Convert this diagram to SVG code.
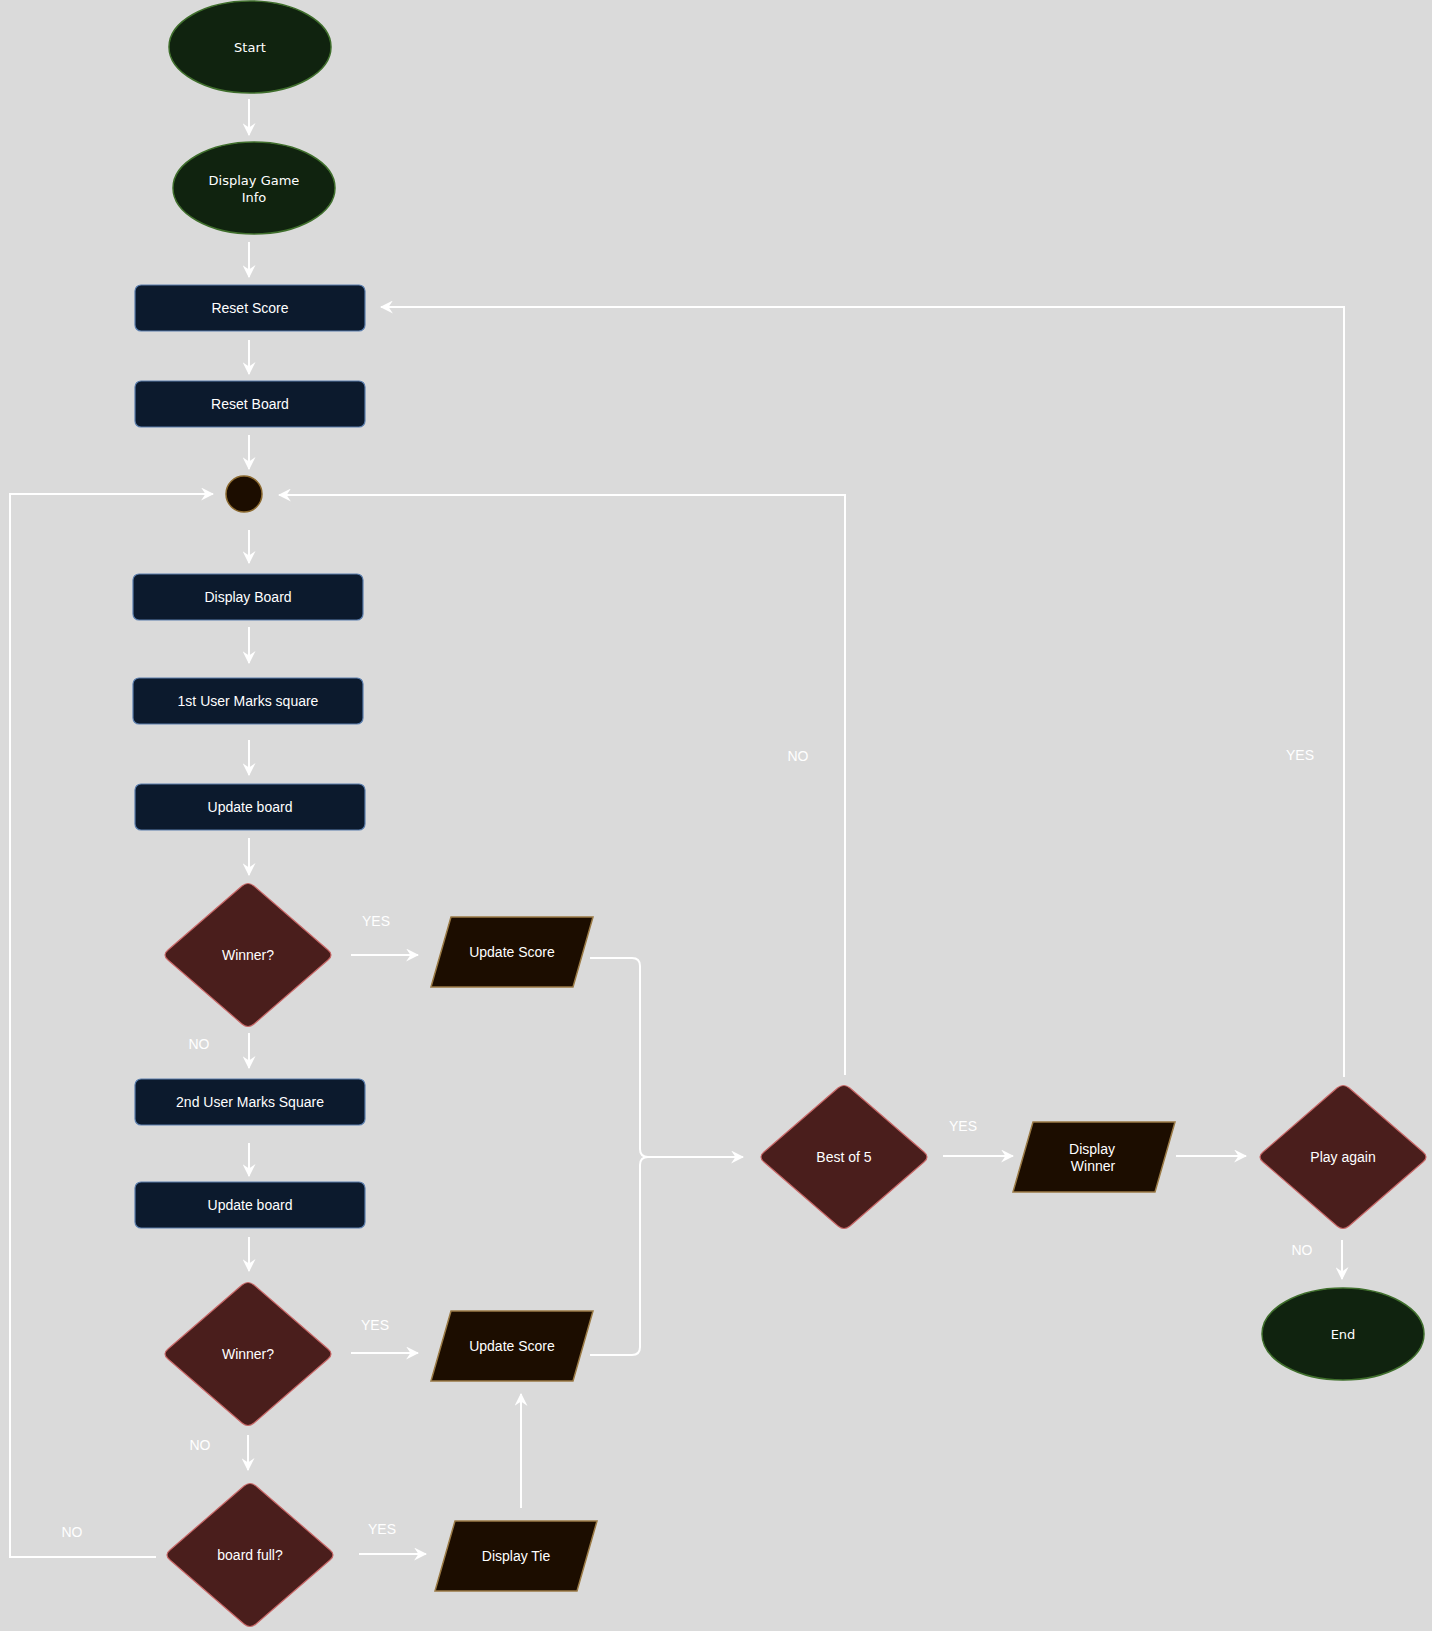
<svg xmlns="http://www.w3.org/2000/svg" xmlns:xlink="http://www.w3.org/1999/xlink" width="1432" height="1631" viewBox="0 0 1432 1631">
<style>
.term{fill:#10230f;stroke:#3f6e2c;stroke-width:1.5}
.proc{fill:#0c1a2d;stroke:#5a7dac;stroke-width:1.2}
.dec{fill:#4a1e1c;stroke:#c86868;stroke-width:1.2}
.io{fill:#1c0d00;stroke:#9a7a45;stroke-width:1.5}
.jn{fill:#1c0d00;stroke:#8c6a30;stroke-width:1.5}
.t{font-family:"Liberation Sans",Arial,Helvetica,sans-serif;font-size:14px;fill:#ffffff;text-anchor:middle}
.tc{font-family:"DejaVu Sans","Noto Sans",sans-serif;font-size:13px;fill:#ffffff;text-anchor:middle}
.lbl{font-family:"Liberation Sans",Arial,Helvetica,sans-serif;font-size:14px;fill:#ffffff;text-anchor:middle}
.c{fill:none;stroke:#ffffff;stroke-width:2}
.a{marker-end:url(#arr)}
</style>
<defs>
<marker id="arr" viewBox="0 0 12 12" refX="11" refY="6" markerWidth="13" markerHeight="13" markerUnits="userSpaceOnUse" orient="auto">
<path d="M0,0 L12,6 L0,12 L4,6 Z" fill="#ffffff"/>
</marker>
<path id="dia" d="M-6,-69 Q0,-74 6,-69 L80,-5 Q86,0 80,5 L6,69 Q0,74 -6,69 L-80,5 Q-86,0 -80,-5 Z"/>
<path id="par" d="M-61,-35 L81,-35 L61,35 L-81,35 Z"/>
</defs>
<rect x="0" y="0" width="1432" height="1631" fill="#dadada"/>

<g id="connectors">
<path class="c a" d="M249,99 V135"/>
<path class="c a" d="M249,242 V277"/>
<path class="c a" d="M249,340 V374"/>
<path class="c a" d="M249,435 V469"/>
<path class="c a" d="M249,530 V563"/>
<path class="c a" d="M249,627 V663"/>
<path class="c a" d="M249,740 V775"/>
<path class="c a" d="M249,838 V875"/>
<path class="c a" d="M351,955 H418"/>
<path class="c a" d="M249,1033 V1068"/>
<path class="c a" d="M249,1143 V1176"/>
<path class="c a" d="M249,1237 V1271"/>
<path class="c a" d="M351,1353 H418"/>
<path class="c a" d="M248,1435 V1470"/>
<path class="c a" d="M359,1554 H426"/>
<path class="c a" d="M521,1508 V1394"/>
<path class="c a" d="M156,1557 H10 V494 H213"/>
<path class="c a" d="M590,958 H632 Q640,958 640,966 V1149 Q640,1157 648,1157 H743"/>
<path class="c" d="M590,1355 H632 Q640,1355 640,1347 V1165 Q640,1157 648,1157"/>
<path class="c a" d="M845,1075 V495 H279"/>
<path class="c a" d="M943,1156 H1013"/>
<path class="c a" d="M1176,1156 H1246"/>
<path class="c a" d="M1344,1077 V307 H381"/>
<path class="c a" d="M1342,1240 V1279"/>
<text class="lbl" x="376" y="926">YES</text>
<text class="lbl" x="199" y="1049">NO</text>
<text class="lbl" x="375" y="1330">YES</text>
<text class="lbl" x="200" y="1450">NO</text>
<text class="lbl" x="382" y="1534">YES</text>
<text class="lbl" x="72" y="1537">NO</text>
<text class="lbl" x="798" y="761">NO</text>
<text class="lbl" x="963" y="1131">YES</text>
<text class="lbl" x="1300" y="760">YES</text>
<text class="lbl" x="1302" y="1255">NO</text>
</g>

<g id="start"><ellipse class="term" cx="250" cy="47" rx="81" ry="46"/><text class="tc" x="250" y="52">Start</text></g>
<g id="display-game-info"><ellipse class="term" cx="254" cy="188" rx="81" ry="46"/><text class="tc" x="254" y="185">Display Game</text><text class="tc" x="254" y="202">Info</text></g>
<g id="reset-score"><rect class="proc" x="135" y="285" width="230" height="46" rx="6"/><text class="t" x="250" y="313">Reset Score</text></g>
<g id="reset-board"><rect class="proc" x="135" y="381" width="230" height="46" rx="6"/><text class="t" x="250" y="409">Reset Board</text></g>
<g id="junction"><circle class="jn" cx="244" cy="494" r="18"/></g>
<g id="display-board"><rect class="proc" x="133" y="574" width="230" height="46" rx="6"/><text class="t" x="248" y="602">Display Board</text></g>
<g id="user1-marks"><rect class="proc" x="133" y="678" width="230" height="46" rx="6"/><text class="t" x="248" y="706">1st User Marks square</text></g>
<g id="update-board-1"><rect class="proc" x="135" y="784" width="230" height="46" rx="6"/><text class="t" x="250" y="812">Update board</text></g>
<g id="winner-1"><use xlink:href="#dia" href="#dia" class="dec" x="248" y="955"/><text class="t" x="248" y="960">Winner?</text></g>
<g id="update-score-1"><use xlink:href="#par" href="#par" class="io" x="512" y="952"/><text class="t" x="512" y="957">Update Score</text></g>
<g id="user2-marks"><rect class="proc" x="135" y="1079" width="230" height="46" rx="6"/><text class="t" x="250" y="1107">2nd User Marks Square</text></g>
<g id="update-board-2"><rect class="proc" x="135" y="1182" width="230" height="46" rx="6"/><text class="t" x="250" y="1210">Update board</text></g>
<g id="winner-2"><use xlink:href="#dia" href="#dia" class="dec" x="248" y="1354"/><text class="t" x="248" y="1359">Winner?</text></g>
<g id="update-score-2"><use xlink:href="#par" href="#par" class="io" x="512" y="1346"/><text class="t" x="512" y="1351">Update Score</text></g>
<g id="board-full"><use xlink:href="#dia" href="#dia" class="dec" x="250" y="1555"/><text class="t" x="250" y="1560">board full?</text></g>
<g id="display-tie"><use xlink:href="#par" href="#par" class="io" x="516" y="1556"/><text class="t" x="516" y="1561">Display Tie</text></g>
<g id="best-of-5"><use xlink:href="#dia" href="#dia" class="dec" x="844" y="1157"/><text class="t" x="844" y="1162">Best of 5</text></g>
<g id="display-winner"><use xlink:href="#par" href="#par" class="io" x="1094" y="1157"/><text class="t" x="1092" y="1154">Display</text><text class="t" x="1093" y="1171">Winner</text></g>
<g id="play-again"><use xlink:href="#dia" href="#dia" class="dec" x="1343" y="1157"/><text class="t" x="1343" y="1162">Play again</text></g>
<g id="end"><ellipse class="term" cx="1343" cy="1334" rx="81" ry="46"/><text class="tc" x="1343" y="1339">End</text></g>
</svg>
